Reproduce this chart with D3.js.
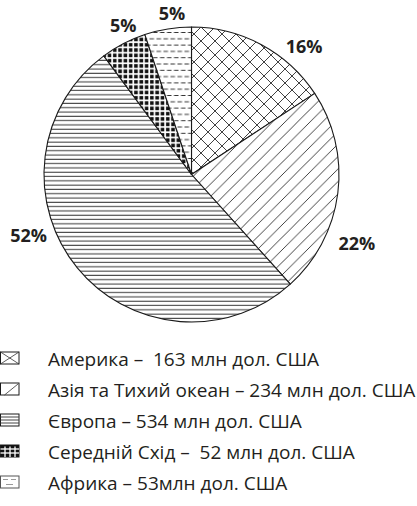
<!DOCTYPE html>
<html>
<head>
<meta charset="utf-8">
<script src="https://cdn.jsdelivr.net/npm/d3@7"></script>
<style>
  body { margin: 0; background: #fff; }
  svg { display: block; }
  text { font-family: "Open Sans", "Noto Sans", sans-serif; fill: #231f20; white-space: pre; }
</style>
</head>
<body>
<div id="chart"></div>
<script>
// дані з діаграми
const regions = ['Америка', 'Азія та Тихий океан', 'Європа', 'Середній Схід', 'Африка']
const values = [163, 234, 534, 52, 53]
const percentLabels = ['16%', '22%', '52%', '5%', '5%']
const legendLabels = [
    'Америка –  163 млн дол. США',
    'Азія та Тихий океан – 234 млн дол. США',
    'Європа – 534 млн дол. США',
    'Середній Схід –  52 млн дол. США',
    'Африка – 53млн дол. США'
]
const patternIds = ['p-cross', 'p-diag', 'p-horiz', 'p-grid', 'p-dash']

// розміщення підписів відсотків (кут у градусах від верху, відстань від центру)
const labelPolar = [[41.2, 171], [112.5, 179], [249.5, 174], [335.4, 164], [353.1, 163]]

const width = 417, height = 506
const cx = 191.5, cy = 174.5, radius = 147.5

const svg = d3.select('#chart')
    .append('svg')
    .attr('width', width)
    .attr('height', height)

const defs = svg.append('defs')

// штрихування
function makePatterns() {
    // хрестик
    let p = defs.append('pattern').attr('id', 'p-cross')
        .attr('patternUnits', 'userSpaceOnUse').attr('width', 14).attr('height', 14)
        .attr('x', cx).attr('y', cy)
    p.append('rect').attr('width', 14).attr('height', 14).attr('fill', '#fff')
    p.append('path').attr('d', 'M0,0L14,14M0,14L14,0')
        .attr('stroke', '#2b2b2b').attr('stroke-width', 0.9)

    // діагональ
    p = defs.append('pattern').attr('id', 'p-diag')
        .attr('patternUnits', 'userSpaceOnUse').attr('width', 12.5).attr('height', 12.5)
        .attr('x', cx).attr('y', cy)
    p.append('rect').attr('width', 12.5).attr('height', 12.5).attr('fill', '#fff')
    p.append('path').attr('d', 'M-1,13.5L13.5,-1M-3,3L3,-3M9.5,15.5L15.5,9.5')
        .attr('stroke', '#2b2b2b').attr('stroke-width', 0.9)

    // горизонтальні лінії
    p = defs.append('pattern').attr('id', 'p-horiz')
        .attr('patternUnits', 'userSpaceOnUse').attr('width', 10).attr('height', 4.3)
    p.append('rect').attr('width', 10).attr('height', 4.3).attr('fill', '#fff')
    p.append('line').attr('x1', 0).attr('x2', 10).attr('y1', 2).attr('y2', 2)
        .attr('stroke', '#333').attr('stroke-width', 1)

    // чорні квадрати
    p = defs.append('pattern').attr('id', 'p-grid')
        .attr('patternUnits', 'userSpaceOnUse').attr('width', 5.3).attr('height', 5.3)
    p.append('rect').attr('width', 5.3).attr('height', 5.3).attr('fill', '#fff')
    p.append('rect').attr('x', 1).attr('y', 1).attr('width', 3.6).attr('height', 3.6).attr('fill', '#111')

    // штрихи
    p = defs.append('pattern').attr('id', 'p-dash')
        .attr('patternUnits', 'userSpaceOnUse').attr('width', 7).attr('height', 12.6)
    p.append('rect').attr('width', 7).attr('height', 12.6).attr('fill', '#fff')
    p.append('path').attr('d', 'M0,3L4.5,3M3.5,9.3L7,9.3M0,9.3L1,9.3')
        .attr('stroke', '#333').attr('stroke-width', 1)
}
makePatterns()

function drawPie() {
    const pie = d3.pie().sort(null).value(d => d)
    const arc = d3.arc().innerRadius(0).outerRadius(radius)
    const arcs = pie(values)

    const g = svg.append('g').attr('transform', `translate(${cx},${cy})`)
    g.selectAll('path.slice')
        .data(arcs)
        .enter()
        .append('path')
        .attr('class', 'slice')
        .attr('d', arc)
        .attr('fill', (d, i) => `url(#${patternIds[i]})`)
        .attr('stroke', '#1a1a1a')
        .attr('stroke-width', 1.1)
        .attr('stroke-linejoin', 'round')

    g.selectAll('text.pct')
        .data(arcs)
        .enter()
        .append('text')
        .attr('class', 'pct')
        .attr('x', (d, i) => labelPolar[i][1] * Math.sin(labelPolar[i][0] * Math.PI / 180))
        .attr('y', (d, i) => -labelPolar[i][1] * Math.cos(labelPolar[i][0] * Math.PI / 180))
        .attr('text-anchor', 'middle')
        .attr('dominant-baseline', 'central')
        .style('font-size', '18px')
        .style('font-weight', 'bold')
        .text((d, i) => percentLabels[i])
}

function drawLegend() {
    const y = d3.scalePoint().domain(regions).range([358, 482])
    const rows = svg.append('g').selectAll('g.row')
        .data(regions)
        .enter()
        .append('g')
        .attr('class', 'row')
        .attr('transform', d => `translate(0,${y(d)})`)

    const bw = 18.5, bh = 12
    rows.append('rect')
        .attr('x', 0.5).attr('y', -bh / 2)
        .attr('width', bw).attr('height', bh)
        .attr('fill', (d, i) => i === 3 ? '#111' : '#fff')
        .attr('stroke', (d, i) => i === 4 ? '#555' : '#1a1a1a')
        .attr('stroke-width', 1)

    // значки всередині
    rows.each(function (d, i) {
        const r = d3.select(this)
        const x0 = 0.5, x1 = 0.5 + bw, y0 = -bh / 2, y1 = bh / 2
        if (i === 0) {
            r.append('path').attr('d', `M${x0},${y0}L${x1},${y1}M${x0},${y1}L${x1},${y0}`)
                .attr('stroke', '#333').attr('stroke-width', 0.8).attr('fill', 'none')
        } else if (i === 1) {
            r.append('path').attr('d', `M${x0 + 4},${y1}L${x1 - 1},${y0 + 1}`)
                .attr('stroke', '#333').attr('stroke-width', 0.8).attr('fill', 'none')
        } else if (i === 2) {
            [-3, 0, 3].forEach(k => {
                r.append('line').attr('x1', x0).attr('x2', x1).attr('y1', k).attr('y2', k)
                    .attr('stroke', '#444').attr('stroke-width', 1)
            })
        } else if (i === 3) {
            [-2, 2].forEach(k => {
                r.append('line').attr('x1', x0).attr('x2', x1).attr('y1', k).attr('y2', k)
                    .attr('stroke', '#fff').attr('stroke-width', 1.3)
            });
            [5, 10, 15].forEach(k => {
                r.append('line').attr('x1', k).attr('x2', k).attr('y1', y0 + 1.5).attr('y2', y1)
                    .attr('stroke', '#fff').attr('stroke-width', 1.3)
            })
        } else {
            r.append('path').attr('d', `M3,-2.5L8,-2.5M11,-2.5L16,-2.5M6,2.5L13,2.5`)
                .attr('stroke', '#999').attr('stroke-width', 1).attr('fill', 'none')
        }
    })

    rows.append('text')
        .attr('x', 48)
        .attr('y', 1)
        .attr('dominant-baseline', 'central')
        .style('font-size', '19px')
        .text((d, i) => legendLabels[i])
}

drawPie()
drawLegend()
</script>
</body>
</html>
